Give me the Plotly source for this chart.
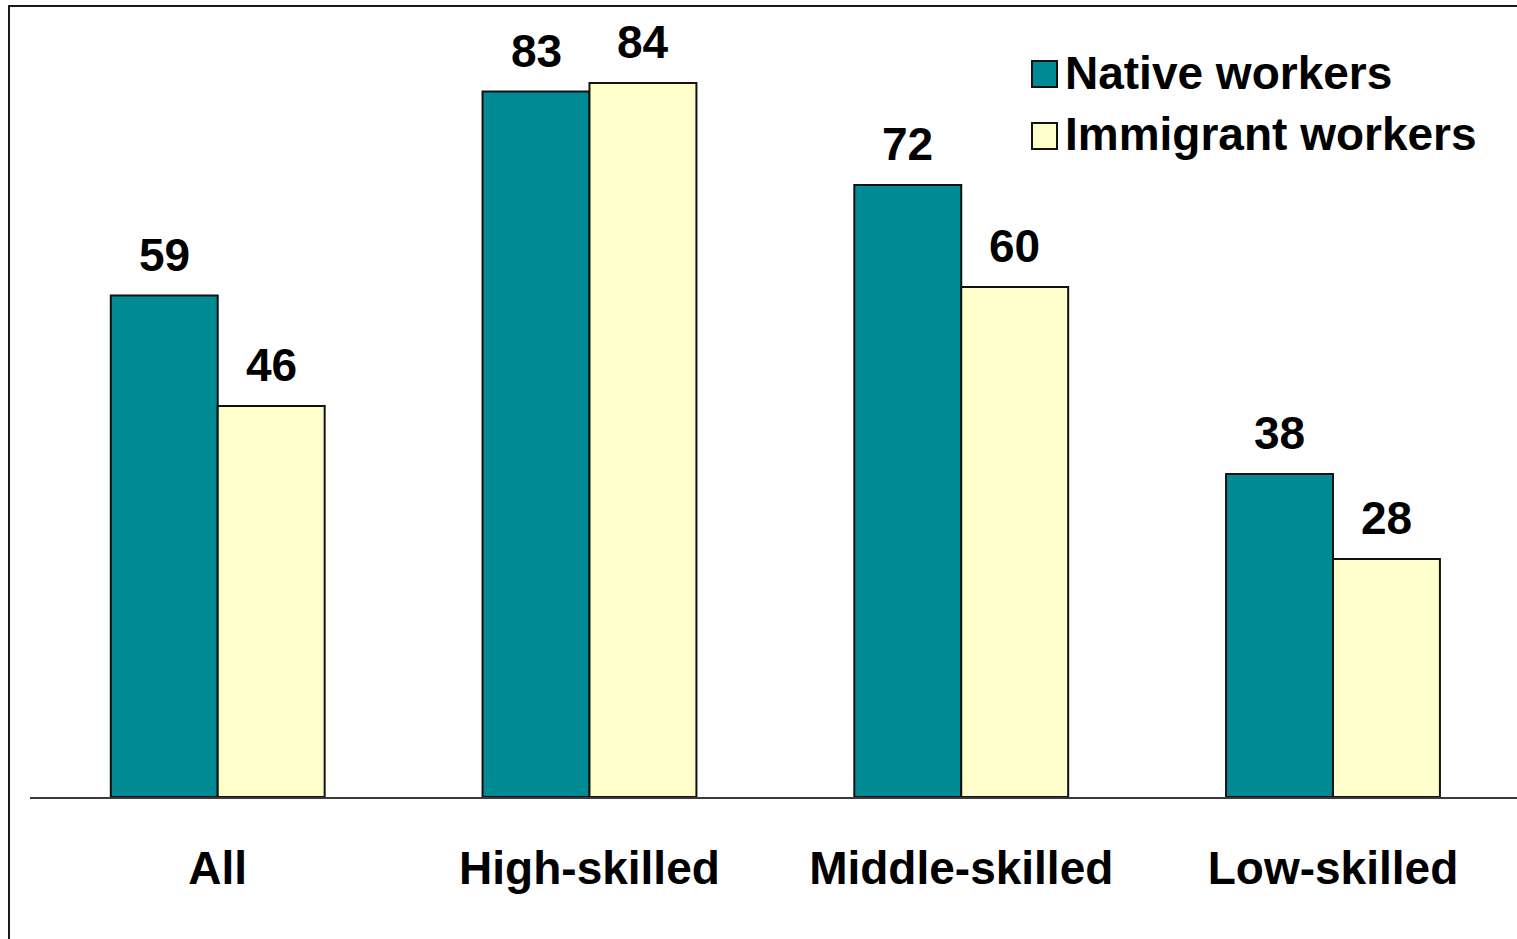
import plotly.graph_objects as go

# Employment rates by skill level
categories = ["All", "High-skilled", "Middle-skilled", "Low-skilled"]
native_workers = [59, 83, 72, 38]
immigrant_workers = [46, 84, 60, 28]
series_names = ["Native workers", "Immigrant workers"]

TEAL = "#008B94"
CREAM = "#FFFFCC"
FONT = "Liberation Sans"

W, H = 1517, 939
M_L, M_R, M_T, M_B = 30, 0, 5, 142
PLOT_W = W - M_L - M_R
PLOT_H = H - M_T - M_B
Y_MAX = PLOT_H / 8.5


def px_x(px):
    return (px - M_L) / PLOT_W


def px_y(py):
    return (H - M_B - py) / PLOT_H


fig = go.Figure()
for name, vals, color in [(series_names[0], native_workers, TEAL),
                          (series_names[1], immigrant_workers, CREAM)]:
    fig.add_trace(go.Bar(
        x=categories, y=vals, name=name,
        marker=dict(color=color, line=dict(color="#111111", width=2)),
        showlegend=False,
    ))

# value labels above each bar
bar_px = PLOT_W / len(categories) * (1 - 0.4247) / 2
annotations = []
for vals, shift in [(native_workers, -bar_px / 2), (immigrant_workers, bar_px / 2)]:
    for cat, v in zip(categories, vals):
        annotations.append(dict(
            x=cat, y=v, xref="x", yref="y", text=str(v), showarrow=False,
            xanchor="center", yanchor="bottom", xshift=shift, yshift=13,
            font=dict(family=FONT, size=46, color="black", weight="bold"),
        ))

# legend drawn as boxes and labels
shapes = []
legend_rows = [(series_names[0], TEAL, 61, 87, 89), (series_names[1], CREAM, 123, 149, 150)]
for name, color, top, bottom, baseline in legend_rows:
    shapes.append(dict(
        type="rect", xref="paper", yref="paper",
        x0=px_x(1032), x1=px_x(1057), y0=px_y(bottom), y1=px_y(top),
        fillcolor=color, line=dict(color="#111111", width=2), layer="above",
    ))
    annotations.append(dict(
        x=px_x(1063), y=px_y(baseline - 15.9), xref="paper", yref="paper",
        text=name, showarrow=False, xanchor="left", yanchor="middle",
        font=dict(family=FONT, size=46, color="black", weight="bold"),
    ))

# outer frame
shapes.append(dict(
    type="rect", xref="paper", yref="paper",
    x0=px_x(9), x1=px_x(1530), y0=px_y(960), y1=px_y(6),
    line=dict(color="#1a1a1a", width=2), fillcolor="rgba(0,0,0,0)", layer="above",
))

fig.update_layout(
    width=W, height=H,
    margin=dict(l=M_L, r=M_R, t=M_T, b=M_B, autoexpand=False),
    paper_bgcolor="white", plot_bgcolor="white",
    barmode="group", bargap=0.4247, bargroupgap=0,
    annotations=annotations, shapes=shapes,
    xaxis=dict(
        range=[-0.505, 3.495],
        showline=True, linecolor="#3a3a3a", linewidth=1.5,
        showgrid=False, zeroline=False, ticks="",
        tickfont=dict(family=FONT, size=46, color="black", weight="bold"),
        ticklabelstandoff=30, automargin=False,
    ),
    yaxis=dict(
        range=[0, Y_MAX], showgrid=False, zeroline=False,
        showticklabels=False, showline=False, automargin=False,
    ),
)

fig.write_html("out.html")
